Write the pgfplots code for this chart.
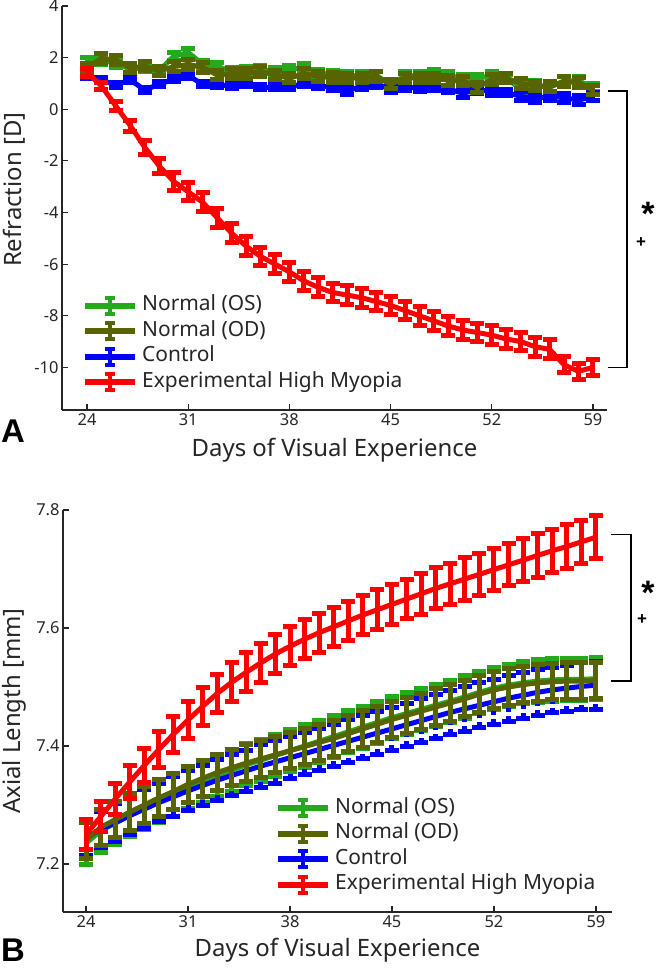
\documentclass[border=0pt]{standalone}
\usepackage{pgfplots}
\pgfplotsset{compat=1.18}
\usepackage{pgfplotstable}
\usetikzlibrary{arrows.meta}
\usepackage{fontspec}
\setmainfont{Noto Sans}
\newfontfamily\labfont{Liberation Sans}

\definecolor{osgreen}{RGB}{36,170,28}
\definecolor{odolive}{RGB}{88,100,0}
\definecolor{axgray}{RGB}{38,38,38}

% refraction [D]
\pgfplotstableread{
day os   eos  od   eod  ct   ect  ex     eex
24  1.85 0.25 1.60 0.28 1.30 0.20  1.43  0.25
25  1.90 0.25 1.97 0.28 1.12 0.20  0.90  0.25
26  1.78 0.25 1.90 0.28 0.95 0.20  0.12  0.28
27  1.55 0.25 1.60 0.28 1.13 0.20 -0.64  0.32
28  1.60 0.25 1.67 0.28 0.75 0.20 -1.48  0.36
29  1.50 0.25 1.48 0.28 0.97 0.20 -2.20  0.40
30  2.05 0.25 1.65 0.28 1.16 0.20 -2.80  0.43
31  2.20 0.25 1.74 0.28 1.30 0.20 -3.20  0.45
32  1.74 0.25 1.62 0.28 0.97 0.20 -3.60  0.46
33  1.67 0.25 1.33 0.28 0.95 0.20 -4.20  0.46
34  1.45 0.25 1.38 0.28 0.90 0.20 -4.80  0.46
35  1.50 0.25 1.38 0.28 1.00 0.20 -5.30  0.46
36  1.55 0.25 1.46 0.28 0.85 0.20 -5.70  0.46
37  1.45 0.25 1.33 0.28 0.85 0.20 -6.00  0.46
38  1.55 0.25 1.20 0.28 0.85 0.20 -6.30  0.46
39  1.60 0.25 1.38 0.28 1.00 0.20 -6.65  0.46
40  1.40 0.25 1.27 0.28 0.90 0.20 -6.90  0.46
41  1.35 0.25 1.23 0.28 0.85 0.22 -7.10  0.46
42  1.30 0.25 1.22 0.28 0.70 0.22 -7.20  0.46
43  1.30 0.25 1.22 0.28 0.90 0.22 -7.30  0.46
44  1.32 0.25 1.27 0.28 0.95 0.22 -7.45  0.46
45  0.95 0.28 0.97 0.28 0.80 0.25 -7.60  0.46
46  1.30 0.25 1.22 0.28 0.85 0.22 -7.80  0.46
47  1.30 0.25 1.22 0.28 0.82 0.22 -8.00  0.46
48  1.40 0.25 1.22 0.28 0.85 0.22 -8.20  0.46
49  1.30 0.25 1.12 0.28 0.78 0.22 -8.40  0.46
50  1.20 0.25 1.10 0.28 0.62 0.25 -8.55  0.46
51  1.20 0.25 0.85 0.28 0.75 0.22 -8.65  0.46
52  1.30 0.25 1.15 0.28 0.70 0.25 -8.75  0.46
53  1.20 0.25 1.20 0.28 0.65 0.22 -8.90  0.46
54  0.78 0.30 1.00 0.28 0.50 0.27 -9.00  0.46
55  0.95 0.25 0.90 0.28 0.42 0.27 -9.20  0.46
56  0.85 0.28 0.88 0.28 0.50 0.25 -9.30  0.46
57  1.10 0.25 1.07 0.28 0.45 0.27 -9.90  0.40
58  1.10 0.25 1.03 0.28 0.35 0.27 -10.15 0.40
59  0.85 0.25 0.75 0.28 0.50 0.25 -10.00 0.40
}\refr

% axial length [mm]
\pgfplotstableread{
day os    eos   od    eod   ct    ect   ex    eex
24  7.235 0.040 7.240 0.035 7.245 0.035 7.250 0.030
25  7.256 0.040 7.262 0.035 7.258 0.035 7.280 0.030
26  7.269 0.040 7.275 0.035 7.270 0.036 7.310 0.031
27  7.282 0.040 7.288 0.035 7.282 0.036 7.339 0.032
28  7.294 0.040 7.300 0.035 7.293 0.037 7.367 0.033
29  7.306 0.040 7.312 0.035 7.304 0.037 7.394 0.034
30  7.317 0.040 7.323 0.035 7.314 0.038 7.420 0.035
31  7.329 0.040 7.335 0.035 7.324 0.038 7.444 0.036
32  7.340 0.040 7.345 0.035 7.333 0.038 7.467 0.036
33  7.350 0.040 7.355 0.035 7.342 0.039 7.489 0.037
34  7.359 0.040 7.363 0.035 7.350 0.039 7.508 0.037
35  7.368 0.040 7.371 0.035 7.358 0.039 7.525 0.037
36  7.376 0.040 7.378 0.035 7.366 0.040 7.541 0.037
37  7.384 0.040 7.385 0.035 7.373 0.040 7.556 0.037
38  7.392 0.040 7.392 0.035 7.380 0.040 7.569 0.037
39  7.400 0.040 7.399 0.035 7.387 0.040 7.581 0.037
40  7.408 0.040 7.406 0.035 7.394 0.040 7.592 0.037
41  7.416 0.040 7.413 0.035 7.401 0.040 7.602 0.037
42  7.424 0.040 7.421 0.035 7.408 0.041 7.612 0.037
43  7.432 0.040 7.429 0.035 7.415 0.041 7.622 0.038
44  7.440 0.040 7.437 0.035 7.422 0.041 7.631 0.038
45  7.448 0.040 7.445 0.035 7.429 0.041 7.640 0.038
46  7.455 0.040 7.452 0.035 7.436 0.041 7.649 0.038
47  7.462 0.040 7.459 0.035 7.443 0.042 7.658 0.039
48  7.469 0.040 7.466 0.035 7.450 0.042 7.667 0.039
49  7.476 0.040 7.473 0.035 7.457 0.042 7.675 0.039
50  7.483 0.040 7.480 0.035 7.463 0.042 7.683 0.040
51  7.491 0.040 7.488 0.035 7.469 0.042 7.691 0.040
52  7.498 0.040 7.495 0.035 7.475 0.042 7.699 0.040
53  7.503 0.040 7.500 0.035 7.481 0.043 7.707 0.040
54  7.507 0.040 7.504 0.035 7.486 0.043 7.715 0.041
55  7.510 0.040 7.507 0.035 7.491 0.043 7.723 0.041
56  7.512 0.040 7.509 0.035 7.495 0.043 7.731 0.041
57  7.513 0.040 7.510 0.035 7.498 0.043 7.738 0.041
58  7.513 0.040 7.510 0.035 7.501 0.044 7.746 0.041
59  7.514 0.040 7.511 0.035 7.503 0.045 7.754 0.041
}\axl

\tikzset{sig/.style={inner sep=0pt, text=black, font=\labfont\bfseries\fontsize{#1}{#1}\selectfont}}

% one group: mean line, then its error bars (drawn as capped vertical segments)
% #1 table, #2 mean column, #3 error column, #4 colour, #5 extra bar options
\newcommand{\series}[5]{%
  \addplot[color=#4, line width=5bp, line join=round, mark=none, forget plot]
    table[x=day, y=#2] {#1};
  \addplot[color=#4, line width=5bp, arrows={Bar[width=14bp]-Bar[width=14bp]},
    forget plot, quiver={u=0, v=2*\thisrow{#3}}, #5]
    table[x=day, y expr=\thisrow{#2}-\thisrow{#3}] {#1};
}

\pgfplotsset{
  panel/.style={
    scale only axis, clip=false,
    axis lines=left,
    axis line style={-, line width=1.2bp, draw=axgray},
    tick align=inside, major tick length=6bp,
    tick style={line width=1.2bp, draw=axgray},
    ticklabel style={font=\fontsize{16.5}{18}\selectfont, text=axgray},
    /pgf/number format/assume math mode=true,
    label style={font=\fontsize{24}{28}\selectfont, text=axgray},
    xtick={24,31,38,45,52,59},
    xlabel={Days of Visual Experience},
    legend cell align=left,
    legend image code/.code={
      \draw[##1, line width=6bp] (0bp,0bp) -- (50bp,0bp);
      \draw[##1, line width=4.5bp] (25bp,-8bp) -- (25bp,8bp);
      \draw[##1, line width=4bp] (20bp,8bp) -- (30bp,8bp) (20bp,-8bp) -- (30bp,-8bp);
    },
    legend style={draw=none, fill=none, anchor=north west, inner sep=0pt,
      font=\fontsize{21}{25}\selectfont, text=axgray,
      nodes={inner sep=0pt, text height=15bp, text depth=5bp},
      row sep=5bp,
      /tikz/every odd column/.append style={column sep=4bp}},
  },
}

\begin{document}
\begin{tikzpicture}
\useasboundingbox (0,0) rectangle (656bp,970bp);

% panel A
\begin{axis}[panel,
  at={(62bp,560bp)}, anchor=south west,
  width=545bp, height=404bp,
  xmin=22.27, xmax=59.97, ymin=-11.65, ymax=4,
  ytick={-10,-8,...,4},
  ylabel={Refraction [D]},
  xlabel style={at={(rel axis cs:0.5,-0.099)}, anchor=center},
  ylabel style={at={(rel axis cs:-0.088,0.545)}, anchor=center},
  legend style={at={(rel axis cs:0.0367,0.2845)}},
]
\series{\refr}{os}{eos}{osgreen}{}
\series{\refr}{ct}{ect}{blue}{}
\series{\refr}{od}{eod}{odolive}{}
\series{\refr}{ex}{eex}{red}{}
\addlegendimage{osgreen}\addlegendentry{Normal (OS)}
\addlegendimage{odolive}\addlegendentry{Normal (OD)}
\addlegendimage{blue}\addlegendentry{Control}
\addlegendimage{red}\addlegendentry{Experimental High Myopia}
\draw[black, line width=1.4bp] (axis cs:60.04,0.7) -- (axis cs:61.36,0.7)
  -- (axis cs:61.36,-10) -- (axis cs:60.04,-10);
\node[sig=34, anchor=north] at (axis cs:62.8,-3.6) {*};
\node[sig=17, anchor=center] at (axis cs:62.33,-5.15) {+};
\node[sig=33, anchor=base west] at (rel axis cs:-0.112,-0.0817) {A};
\end{axis}

% panel B
\begin{axis}[panel,
  at={(63bp,58bp)}, anchor=south west,
  width=549bp, height=402bp,
  xmin=22.42, xmax=60.1, ymin=7.1186, ymax=7.8,
  ytick={7.2,7.4,7.6,7.8},
  yticklabel style={/pgf/number format/.cd, fixed, fixed zerofill, precision=1},
  ylabel={Axial Length [mm]},
  xlabel style={at={(rel axis cs:0.5,-0.0945)}, anchor=center},
  ylabel style={at={(rel axis cs:-0.089,0.5)}, anchor=center},
  legend style={at={(rel axis cs:0.386,0.2835)}},
]
\series{\axl}{os}{eos}{osgreen}{}
\series{\axl}{ct}{ect}{blue}{dash pattern=on 4bp off 4bp}
\series{\axl}{od}{eod}{odolive}{}
\series{\axl}{ex}{eex}{red}{}
\addlegendimage{osgreen}\addlegendentry{Normal (OS)}
\addlegendimage{odolive}\addlegendentry{Normal (OD)}
\addlegendimage{blue}\addlegendentry{Control}
\addlegendimage{red}\addlegendentry{Experimental High Myopia}
\draw[black, line width=1.4bp] (axis cs:60.03,7.758) -- (axis cs:61.4,7.758)
  -- (axis cs:61.4,7.51) -- (axis cs:60.03,7.51);
\node[sig=34, anchor=north] at (axis cs:62.57,7.68) {*};
\node[sig=17, anchor=center] at (axis cs:62.16,7.614) {+};
\node[sig=33, anchor=base west] at (rel axis cs:-0.113,-0.124) {B};
\end{axis}
\end{tikzpicture}
\end{document}
